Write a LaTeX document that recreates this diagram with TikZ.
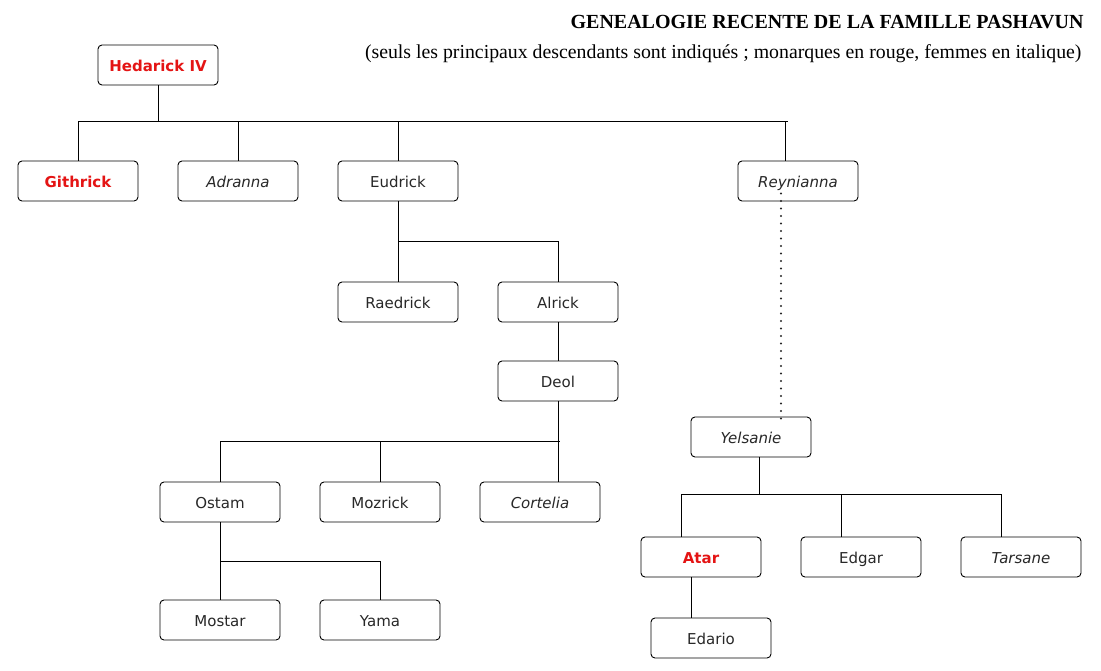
\documentclass[tikz,border=0pt]{standalone}
\usepackage{fontspec}
\setmainfont{Liberation Serif}
\newfontfamily\boxfont{DejaVu Sans}
\usetikzlibrary{positioning}
\definecolor{kingred}{RGB}{228,20,20}
\definecolor{namegray}{RGB}{40,40,40}
\tikzset{
  person/.style={rectangle, rounded corners=4pt, draw=black, line width=0.9pt,
    fill=white, minimum width=120pt, minimum height=40pt, inner sep=2pt,
    text height=12pt, text depth=-2pt,
    text=namegray, font=\boxfont\fontsize{15}{17}\selectfont},
  monarch/.style={person, text=kingred, font=\boxfont\bfseries\fontsize{15}{17}\selectfont},
  woman/.style={person, font=\boxfont\itshape\fontsize{15}{17}\selectfont},
  famline/.style={draw=black, line width=0.9pt},
  lineage/.style={draw=black!85, line width=2.2pt, line cap=round, dash pattern=on 0pt off 7.5pt}
}
\begin{document}
\begin{tikzpicture}[x=1pt, y=-1pt]
  \useasboundingbox (0,0) rectangle (1101,670);
  % titre
  \node[anchor=east, font=\bfseries\fontsize{20}{23}\selectfont] (titre) at (1087,22)
    {GENEALOGIE RECENTE DE LA FAMILLE PASHAVUN};
  \node[anchor=east, font=\fontsize{19.8}{23}\selectfont] (soustitre) at (1085,54)
    {(seuls les principaux descendants sont indiqués ; monarques en rouge, femmes en italique)};

  % generation 1 et 2
  \node[monarch] (hed) at (158,65) {Hedarick IV};
  \node[monarch] (gith) at (78,181) {Githrick};
  \node[woman] (adra) at (238,181) {Adranna};
  \node[person] (eudr) at (398,181) {Eudrick};
  \node[woman] (reyn) at (798,181) {Reynianna};

  % branche Eudrick
  \node[person] (raed) at (398,302) {Raedrick};
  \node[person] (alri) at (558,302) {Alrick};
  \node[person] (deol) at (558,381) {Deol};
  \node[person] (osta) at (220,502) {Ostam};
  \node[person] (mozr) at (380,502) {Mozrick};
  \node[woman] (cort) at (540,502) {Cortelia};
  \node[person] (most) at (220,620) {Mostar};
  \node[person] (yama) at (380,620) {Yama};

  % branche Reynianna
  \node[woman] (yels) at (751,437) {Yelsanie};
  \node[monarch] (atar) at (701,557) {Atar};
  \node[person] (edga) at (861,557) {Edgar};
  \node[woman] (tars) at (1021,557) {Tarsane};
  \node[person] (edar) at (711,638) {Edario};

  % liens
  \coordinate (busA) at (78,121);
  \coordinate (busAend) at (788,121);
  \draw[famline] (hed) -- (hed |- busA);
  \draw[famline] (busA) -- (busAend);
  \foreach \n in {gith,adra,eudr}
    \draw[famline] (\n) -- (\n |- busA);
  \draw[famline] ([xshift=-13pt]reyn.north) -- ([xshift=-13pt]reyn.north |- busA);

  \coordinate (busB) at (398,241);
  \draw[famline] (eudr) -- (raed);
  \draw[famline] (busB) -| (alri);
  \draw[famline] (alri) -- (deol);

  \coordinate (busC) at (220,441);
  \coordinate (busCend) at (560,441);
  \draw[famline] (deol) -- (deol |- busC);
  \draw[famline] (busC) -- (busCend);
  \foreach \n in {osta,mozr}
    \draw[famline] (\n) -- (\n |- busC);
  \draw[famline] ([xshift=18pt]cort.north) -- ([xshift=18pt]cort.north |- busC);

  \coordinate (busD) at (220,561);
  \draw[famline] (osta) -- (most);
  \draw[famline] (busD) -| (yama);

  \draw[lineage] ([xshift=-17pt,yshift=8pt]reyn.south) -- ([xshift=30pt,yshift=-3pt]yels.north);

  \coordinate (busE) at (681,494);
  \coordinate (busEend) at (1001,494);
  \draw[famline] ([xshift=8pt]yels.south) -- ([xshift=8pt]yels.south |- busE);
  \draw[famline] (busE) -- (busEend);
  \draw[famline] ([xshift=-20pt]atar.north) -- ([xshift=-20pt]atar.north |- busE);
  \draw[famline] ([xshift=-20pt]edga.north) -- ([xshift=-20pt]edga.north |- busE);
  \draw[famline] ([xshift=-20pt]tars.north) -- ([xshift=-20pt]tars.north |- busE);
  \draw[famline] ([xshift=-10pt]atar.south) -- ([xshift=-20pt]edar.north);
\end{tikzpicture}
\end{document}
